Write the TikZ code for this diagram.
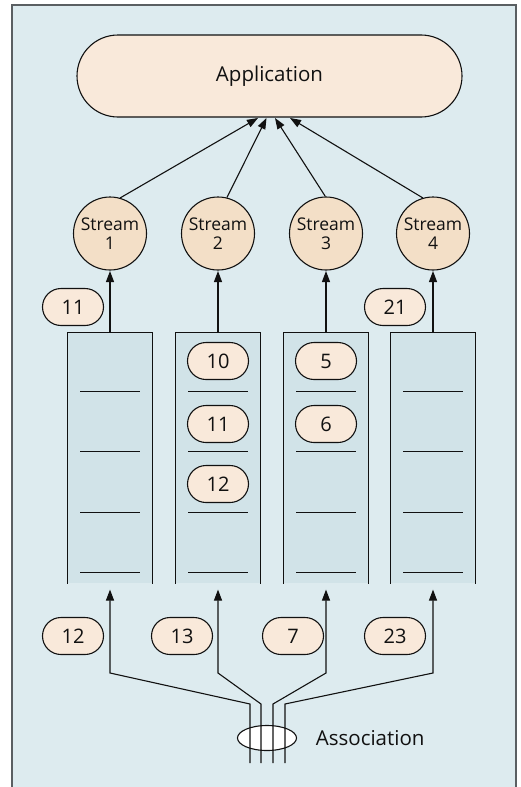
\documentclass[tikz,border=0pt]{standalone}
\usepackage{fontspec}
\setmainfont{Open Sans}
\usetikzlibrary{arrows.meta,shapes.geometric}
\definecolor{panel}{HTML}{DDEBEF}
\definecolor{queuefill}{HTML}{D1E3E8}
\definecolor{pillfill}{HTML}{F9E9DA}
\definecolor{streamfill}{HTML}{F3DFC7}
\definecolor{framegray}{HTML}{5A5F62}
\definecolor{ink}{HTML}{111111}

\begin{document}
\begin{tikzpicture}[x=1pt,y=-1pt,line width=1.1pt,draw=ink,text=ink,
  arr/.style={-{Triangle[length=11pt,width=8pt]},draw=ink},
  pill/.style={draw,fill=pillfill,rounded corners=18.5pt,minimum width=61pt,minimum height=37pt,inner sep=0pt,font=\fontsize{20}{22}\selectfont},
  stream/.style={draw,circle,fill=streamfill,minimum size=73pt,inner sep=0pt,align=center,font=\fontsize{17.5}{19.5}\selectfont},
  queue/.style={fill=queuefill,minimum width=84pt,minimum height=250pt,inner sep=0pt}]
\useasboundingbox (0,0) rectangle (521,787);
% panel
\fill[panel] (12,5) rectangle (516,787);
\draw[framegray,line width=1.4pt] (12,787) -- (12,5) -- (516,5) -- (516,787);

\node[draw,fill=pillfill,rounded corners=41pt,minimum width=385pt,minimum height=82pt,font=\fontsize{20.5}{23}\selectfont] (app) at (269.5,76) {Application};

\node[stream] (s1) at (110,233.5) {Stream\\1};
\node[stream] (s2) at (218,233.5) {Stream\\2};
\node[stream] (s3) at (326,233.5) {Stream\\3};
\node[stream] (s4) at (433,233.5) {Stream\\4};

\coordinate (a1) at (258,118);
\coordinate (a2) at (266.5,118);
\coordinate (a3) at (275,118);
\coordinate (a4) at (290,118);
\draw[arr] (s1.74) -- (a1);
\draw[arr] (s2.76) -- (a2);
\draw[arr] (s3.91) -- (a3);
\draw[arr] (s4.106) -- (a4);

% receive queues
\node[queue] (q1) at (110,458) {};
\node[queue] (q2) at (218,458) {};
\node[queue] (q3) at (326,458) {};
\node[queue] (q4) at (433,458) {};
\foreach \q in {q1,q2,q3,q4} {
  \draw (\q.south west) -- (\q.north west) -- (\q.north east) -- (\q.south east);
  \foreach \y in {391,451.7,512.3,572.3}
    \draw[line width=1pt] ([xshift=-30pt]\q.center |- 0,\y) -- ([xshift=30pt]\q.center |- 0,\y);
  \draw[arr] (\q.north) -- (\q.north |- 0,271);
}

\node[pill] (d11) at (73,307) {11};
\node[pill] (d21) at (395,307) {21};
\node[pill] (p10) at (218,361) {10};
\node[pill] (p11) at (218,424) {11};
\node[pill] (p12) at (218,484) {12};
\node[pill] (p5) at (326,361) {5};
\node[pill] (p6) at (326,424) {6};

\node[pill] (n12) at (73,636) {12};
\node[pill] (n13) at (182,636) {13};
\node[pill] (n7) at (293,636) {7};
\node[pill] (n23) at (395,636) {23};

% association
\node[draw,ellipse,fill=white,minimum width=59pt,minimum height=25pt,inner sep=0pt] (assoc) at (267,738) {};
\node[anchor=west,font=\fontsize{20.5}{23}\selectfont] (alabel) at (312,738) {Association};

\coordinate (b1) at (250,763);
\coordinate (b2) at (261,763);
\coordinate (b3) at (273,763);
\coordinate (b4) at (285,763);
\coordinate (k1) at (250,704);
\coordinate (k2) at (261,704);
\coordinate (k3) at (273,704);
\coordinate (k4) at (285,704);
\coordinate (c1) at (110,673);
\coordinate (c2) at (218,673);
\coordinate (c3) at (326,673);
\coordinate (c4) at (433,673);
\draw[arr,shorten >=6pt] (b1) -- (k1) -- (c1) -- (q1.south);
\draw[arr,shorten >=6pt] (b2) -- (k2) -- (c2) -- (q2.south);
\draw[arr,shorten >=6pt] (b3) -- (k3) -- (c3) -- (q3.south);
\draw[arr,shorten >=6pt] (b4) -- (k4) -- (c4) -- (q4.south);
\end{tikzpicture}
\end{document}
